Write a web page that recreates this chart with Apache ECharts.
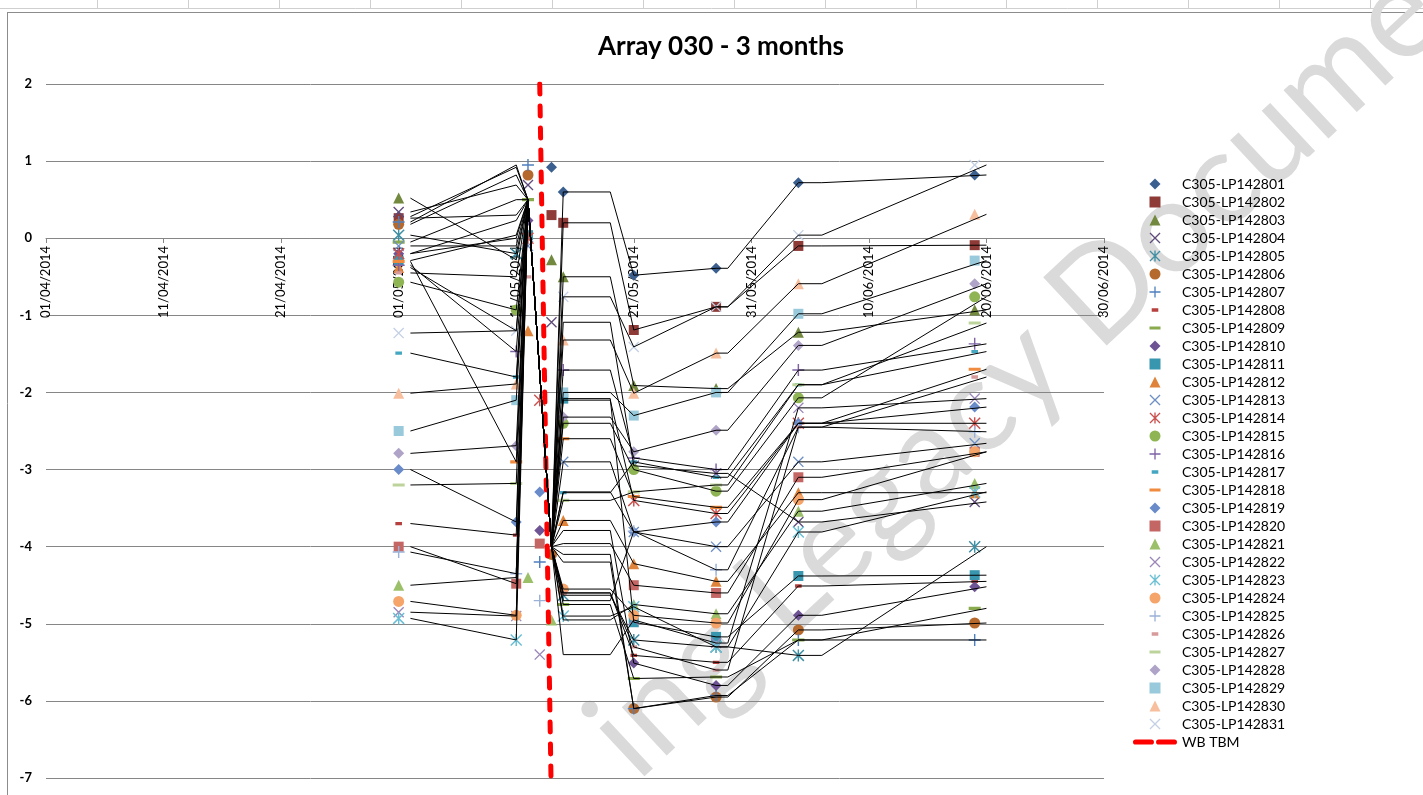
<!DOCTYPE html>
<html>
<head>
<meta charset="utf-8">
<title>Array 030 - 3 months</title>
<script src="https://cdn.jsdelivr.net/npm/echarts@6/dist/echarts.min.js"></script>
<style>
  html, body { margin: 0; padding: 0; background: #fff; }
  #chart { width: 1423px; height: 795px; }
</style>
</head>
<body>
<div id="chart"></div>
<script>
// monitoring points of array 030
const sensors = [
  'C305-LP142801', 'C305-LP142802', 'C305-LP142803', 'C305-LP142804', 'C305-LP142805',
  'C305-LP142806', 'C305-LP142807', 'C305-LP142808', 'C305-LP142809', 'C305-LP142810',
  'C305-LP142811', 'C305-LP142812', 'C305-LP142813', 'C305-LP142814', 'C305-LP142815',
  'C305-LP142816', 'C305-LP142817', 'C305-LP142818', 'C305-LP142819', 'C305-LP142820',
  'C305-LP142821', 'C305-LP142822', 'C305-LP142823', 'C305-LP142824', 'C305-LP142825',
  'C305-LP142826', 'C305-LP142827', 'C305-LP142828', 'C305-LP142829', 'C305-LP142830',
  'C305-LP142831'
];

// readings: 01/05, first and second reading around the TBM pass, 21/05, 28/05, 04/06, 19/06
const readings = [
  [0.28, 0.92, 0.6, -0.48, -0.39, 0.72, 0.82],
  [0.26, 0.3, 0.2, -1.19, -0.89, -0.10, -0.09],
  [0.52, -0.28, -0.5, -1.91, -1.95, -1.22, -0.93],
  [0.34, 0.69, -1.09, -2.95, -3.05, -3.68, -3.42],
  [0.04, -0.2, -4.63, -5.21, -5.3, -5.41, -4.0],
  [0.18, 0.82, -4.1, -6.1, -5.95, -5.08, -4.99],
  [0.21, 0.95, -4.2, -6.1, -5.93, -5.21, -5.21],
  [-3.7, -3.85, -4.6, -5.41, -5.5, -4.51, -4.45],
  [-0.05, 0.5, -4.75, -5.71, -5.69, -5.21, -4.8],
  [-0.2, 0.23, -3.79, -5.51, -5.8, -4.89, -4.52],
  [-0.29, 0.04, -2.08, -4.98, -5.17, -4.38, -4.37],
  [-0.38, -1.2, -3.66, -4.22, -4.45, -3.3, -3.3],
  [-0.1, -0.1, -2.9, -3.81, -4.0, -2.9, -2.66],
  [-0.2, 0.0, -2.1, -3.4, -3.57, -2.4, -2.4],
  [-0.57, -0.93, -2.4, -3.0, -3.28, -2.07, -0.76],
  [-0.35, -1.47, -1.71, -2.85, -3.0, -1.71, -1.37],
  [-1.49, -1.8, -3.3, -2.9, -3.1, -1.9, -1.47],
  [-0.3, -2.9, -2.6, -3.35, -3.49, -2.4, -1.7],
  [-3.0, -3.68, -3.29, -3.81, -3.68, -2.4, -2.19],
  [-4.0, -4.48, -3.96, -4.5, -4.6, -3.1, -2.77],
  [-4.5, -4.4, -4.95, -4.75, -4.87, -3.54, -3.18],
  [-4.85, -4.9, -5.4, -4.95, -5.25, -2.2, -2.08],
  [-4.93, -5.21, -4.9, -4.78, -5.3, -3.81, -3.29],
  [-4.71, -4.89, -4.55, -4.89, -4.99, -3.39, -2.77],
  [-4.07, -4.35, -4.7, -3.8, -4.3, -2.45, -2.51],
  [-0.45, -0.5, -4.6, -5.3, -5.6, -2.45, -1.8],
  [-3.2, -3.18, -3.4, -3.29, -3.2, -1.9, -1.1],
  [-2.79, -2.69, -2.32, -2.77, -2.49, -1.39, -0.59],
  [-2.5, -2.1, -2.0, -2.3, -2.0, -0.98, -0.29],
  [-2.01, -1.89, -1.32, -2.01, -1.49, -0.59, 0.31],
  [-1.23, -1.2, -0.76, -1.41, -0.89, 0.04, 0.95]
];

// day of May of the two readings taken around the TBM pass
const passDays = [
  [14, 15], [14, 15], [14, 15], [12, 14], [11, 15], [12, 14], [12, 13], [11, 15],
  [12, 15], [12, 13], [12, 15], [12, 15], [12, 15], [12, 13], [11, 15], [11, 15],
  [11, 15], [11, 15], [11, 13], [11, 13], [12, 14], [11, 13], [11, 15], [11, 15],
  [11, 13], [12, 15], [11, 15], [11, 15], [11, 15], [11, 15], [11, 15]
];

const markerDates = ['2014-05-01', '2014-05-21', '2014-05-28', '2014-06-04', '2014-06-19'];
const lineDates = ['2014-05-02', '2014-05-11', '2014-05-12', '2014-05-14', '2014-05-15', '2014-05-19',
  '2014-05-21', '2014-05-28', '2014-05-29', '2014-06-04', '2014-06-06', '2014-06-20'];
// every trace runs through these two values on 12/05 and 14/05
const passValues = [0.5, -4.0];

const tbmPoints = [['2014-05-13 00', 2], ['2014-05-13 23', -7]];

const shapes = ['diamond', 'square', 'triangle', 'x', 'star', 'circle', 'plus', 'dash', 'longdash'];
const colors = [
  '#3b5f8f', '#8e3b38', '#72893f', '#5f4b7b', '#3e8ea4', '#b5692c', '#4f7fbf', '#b5403d', '#8aaa4e',
  '#6e5494', '#3896ae', '#e0833a', '#6d8fc6', '#c9504d', '#8eb454', '#7e63a5', '#44a6c0', '#f08a3e',
  '#6a8bc9', '#c46764', '#9cc06a', '#9a86b9', '#6abfd4', '#f6a56a', '#9ab1d8', '#d69b9a', '#bdd39c',
  '#afa3c7', '#99cadb', '#f8bf9e', '#c3d0e6'
];

// marker paths in a 10x10 box so the legend keeps their aspect
const SYMBOLS = {
  diamond: ['path://M5,0L10,5L5,10L0,5Z', 11],
  square: ['path://M0,0L10,0L10,10L0,10Z', 10],
  triangle: ['path://M5,0L10,10L0,10Z', 11],
  circle: ['path://M5,0A5,5 0 1 1 5,10A5,5 0 1 1 5,0Z', 11],
  plus: ['path://M4.4,0L5.6,0L5.6,4.4L10,4.4L10,5.6L5.6,5.6L5.6,10L4.4,10L4.4,5.6L0,5.6L0,4.4L4.4,4.4Z', 12],
  x: ['path://M0,0.85L0.85,0L10,9.15L9.15,10Z M9.15,0L10,0.85L0.85,10L0,9.15Z', 11],
  star: ['path://M0,0.85L0.85,0L10,9.15L9.15,10Z M9.15,0L10,0.85L0.85,10L0,9.15Z M4.4,0L5.6,0L5.6,10L4.4,10Z', 12],
  dash: ['path://M0,0L0.01,0L0,0.01Z M10,10L9.99,10L10,9.99Z M2,3.5L8,3.5L8,6.5L2,6.5Z', 11],
  longdash: ['path://M5,0L5.01,0L5,0.01Z M5,10L4.99,10L5,9.99Z M0,3.7L10,3.7L10,6.3L0,6.3Z', 12]
};

const origin = Date.UTC(2014, 3, 1);
function dayOf(s) {
  const parts = s.split(' ');
  const ymd = parts[0].split('-').map(Number);
  const h = parts[1] ? Number(parts[1]) : 0;
  return (Date.UTC(ymd[0], ymd[1] - 1, ymd[2], h) - origin) / 864e5;
}
function pad(n) { return (n < 10 ? '0' : '') + n; }
function fmtDay(v) {
  const d = new Date(origin + v * 864e5);
  return pad(d.getUTCDate()) + '/' + pad(d.getUTCMonth() + 1) + '/' + d.getUTCFullYear();
}

const FONT = 'Lato, "Open Sans", sans-serif';
const series = [];

sensors.forEach(function (name, i) {
  const r = readings[i];
  const sym = SYMBOLS[shapes[i % shapes.length]];
  const marks = [
    [dayOf(markerDates[0]), r[0]],
    [dayOf('2014-05-' + passDays[i][0]), r[1]],
    [dayOf('2014-05-' + passDays[i][1]), r[2]],
    [dayOf(markerDates[1]), r[3]],
    [dayOf(markerDates[2]), r[4]],
    [dayOf(markerDates[3]), r[5]],
    [dayOf(markerDates[4]), r[6]]
  ];
  series.push({
    type: 'scatter',
    name: name,
    data: marks,
    symbol: sym[0],
    symbolSize: sym[1],
    itemStyle: { color: colors[i], opacity: 1 },
    silent: true,
    z: 3
  });
});

sensors.forEach(function (name, i) {
  const r = readings[i];
  const vals = [r[0], r[1], passValues[0], passValues[1], r[2], r[2], r[3], r[4], r[4], r[5], r[5], r[6]];
  series.push({
    type: 'line',
    name: name,
    data: lineDates.map(function (d, k) { return [dayOf(d), vals[k]]; }),
    symbol: 'none',
    lineStyle: { color: '#000', width: 1 },
    silent: true,
    z: 5
  });
});

series.push({
  type: 'line',
  name: 'WB TBM',
  data: tbmPoints.map(function (p) { return [dayOf(p[0]), p[1]]; }),
  symbol: 'none',
  itemStyle: { color: '#ff0000' },
  lineStyle: { color: '#ff0000', width: 5, type: [10, 12], cap: 'round' },
  silent: true,
  z: 4
});

// excel sheet remains around the chart object
const sheetLines = [];
[97, 188, 279, 370, 461, 552, 643, 734, 825, 916, 1006, 1097, 1188, 1279, 1370].forEach(function (x) {
  sheetLines.push({ type: 'line', shape: { x1: x + 0.5, y1: 0, x2: x + 0.5, y2: 8 }, style: { stroke: '#cfcfcf', lineWidth: 1 }, z: -20 });
});
sheetLines.push({ type: 'line', shape: { x1: 0, y1: 8.5, x2: 1423, y2: 8.5 }, style: { stroke: '#cfcfcf', lineWidth: 1 }, z: -20 });
sheetLines.push({ type: 'line', shape: { x1: 7, y1: 12.5, x2: 1423, y2: 12.5 }, style: { stroke: '#8c8c8c', lineWidth: 1 }, z: -20 });
sheetLines.push({ type: 'line', shape: { x1: 7.5, y1: 12, x2: 7.5, y2: 795 }, style: { stroke: '#8c8c8c', lineWidth: 1 }, z: -20 });

const chart = echarts.init(document.getElementById('chart'));
chart.setOption({
  animation: false,
  backgroundColor: '#fff',
  title: {
    text: 'Array 030 - 3 months',
    left: 716,
    top: 29,
    textAlign: 'center',
    textStyle: { fontFamily: FONT, fontWeight: 'bold', fontSize: 26, color: '#000' }
  },
  grid: { left: 46, right: 319, top: 84, bottom: 17, containLabel: false, outerBoundsMode: 'none' },
  xAxis: {
    type: 'value',
    min: 0,
    max: 90,
    interval: 10,
    // axis sits on the zero line: 540px above the plot bottom
    offset: -540,
    axisLine: { onZero: false, lineStyle: { color: '#868686', width: 1 } },
    axisTick: { show: true, length: 5, lineStyle: { color: '#868686' } },
    axisLabel: { rotate: 90, margin: 8, formatter: fmtDay, fontFamily: FONT, fontSize: 13, color: '#000' },
    splitLine: { show: false }
  },
  yAxis: {
    type: 'value',
    min: -7,
    max: 2,
    interval: 1,
    axisLine: { show: false, onZero: false },
    axisTick: { show: false },
    axisLabel: { margin: 14, fontFamily: FONT, fontWeight: 'bold', fontSize: 13, color: '#000' },
    splitLine: { lineStyle: { color: '#868686', width: 1 } }
  },
  legend: {
    orient: 'vertical',
    left: 1128,
    top: 172,
    itemWidth: 44,
    itemHeight: 11,
    itemGap: 4,
    itemStyle: { borderWidth: 0 },
    textStyle: { fontFamily: FONT, fontSize: 14, color: '#000' },
    data: sensors.map(function (n) { return { name: n }; }).concat([{
      name: 'WB TBM',
      icon: 'path://M2.5,0L17.5,0A2.5,2.5 0 0 1 17.5,5L2.5,5A2.5,2.5 0 0 1 2.5,0Z M24.5,0L39.5,0A2.5,2.5 0 0 1 39.5,5L24.5,5A2.5,2.5 0 0 1 24.5,0Z',
      itemStyle: { color: '#ff0000', borderWidth: 0 }
    }])
  },
  graphic: sheetLines.concat([{
    type: 'text',
    x: 653,
    y: 800,
    rotation: 43 * Math.PI / 180,
    z: -10,
    silent: true,
    style: { text: 'ing Legacy Document', font: '130px Lato', fill: '#dadada', verticalAlign: 'bottom', align: 'left' }
  }]),
  series: series
});
</script>
</body>
</html>
